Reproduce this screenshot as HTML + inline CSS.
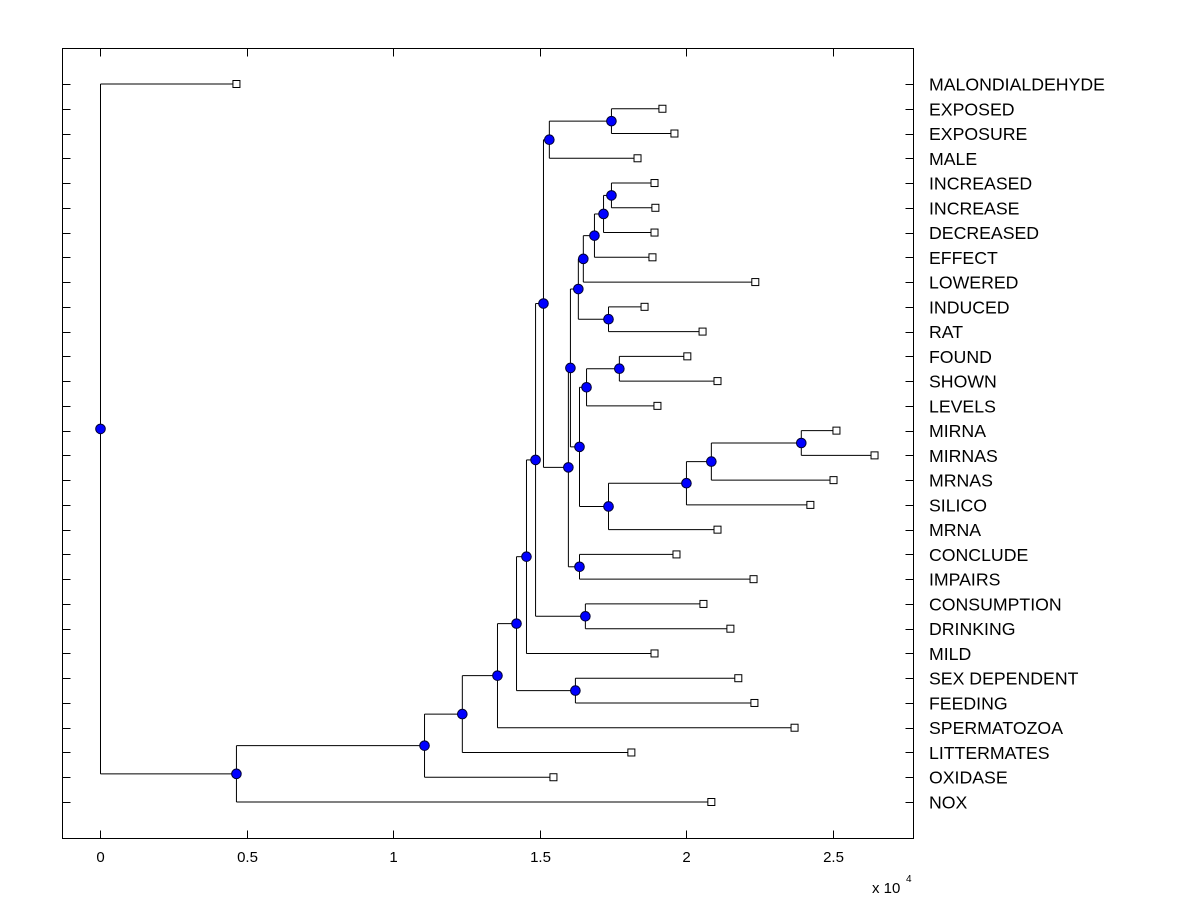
<!DOCTYPE html>
<html><head><meta charset="utf-8"><style>
body{margin:0;background:#fff}
svg text{font-family:"Liberation Sans",Arial,sans-serif;fill:#000}
</style></head><body>
<svg id="chart" width="1200" height="900" xmlns="http://www.w3.org/2000/svg">
<rect x="0" y="0" width="1200" height="900" fill="#fff"/>
<rect x="62.5" y="48.5" width="851" height="790" fill="#fff" stroke="#000" stroke-width="1"/>
<g id="ticks"></g><g id="lines"></g><g id="marks"></g><g id="labels"></g>
<text x="872" y="893" font-size="15">x 10</text>
<text x="906" y="882" font-size="10">4</text>
</svg>
<script>
const leafNames=["MALONDIALDEHYDE","EXPOSED","EXPOSURE","MALE","INCREASED","INCREASE","DECREASED","EFFECT","LOWERED","INDUCED","RAT","FOUND","SHOWN","LEVELS","MIRNA","MIRNAS","MRNAS","SILICO","MRNA","CONCLUDE","IMPAIRS","CONSUMPTION","DRINKING","MILD","SEX DEPENDENT","FEEDING","SPERMATOZOA","LITTERMATES","OXIDASE","NOX"];
const leafValues=[0.464,1.918,1.959,1.833,1.891,1.894,1.891,1.884,2.235,1.857,2.055,2.003,2.106,1.901,2.512,2.642,2.502,2.423,2.106,1.966,2.229,2.058,2.150,1.891,2.177,2.232,2.369,1.812,1.546,2.085];
const mergeNames=["BB","AA","Z","X","Y","W","Q","V","U","T","R","S","P","N","O","L","M","K","I","J","H","F","G","E","D","C","B","A","ROOT"];
const mergeLeft=[14,"BB","AA","Z",11,"Y","W",4,"V","U","T",9,"R","P",19,"N",1,"M","K",21,"I","H",24,"F","E","D","C","B",0];
const mergeRight=[15,16,17,18,12,13,"X",5,6,7,8,10,"S","Q",20,"O",2,3,"L",22,"J",23,25,"G",26,27,28,29,"A"];
const mergeHeights=[2.392,2.085,2.0,1.734,1.771,1.659,1.635,1.744,1.717,1.686,1.648,1.734,1.631,1.604,1.635,1.597,1.744,1.532,1.512,1.655,1.485,1.454,1.621,1.42,1.355,1.235,1.106,0.464,0];
const xTicks=[0,0.5,1,1.5,2,2.5];
const xTickLabels=["0","0.5","1","1.5","2","2.5"];

const NS="http://www.w3.org/2000/svg";
const X0=62.5,X1=913.5,Y0=48.5,Y1=838.5,VMIN=-0.1297,VMAX=2.775;
function xs(v){return X0+(v-VMIN)/(VMAX-VMIN)*(X1-X0);}
function ys(i){return 84+i*(802-84)/(leafNames.length-1);}
function mk(tag,attrs,parent){const e=document.createElementNS(NS,tag);for(const k in attrs)e.setAttribute(k,attrs[k]);parent.appendChild(e);return e;}
const gT=document.getElementById('ticks'),gL=document.getElementById('lines'),gM=document.getElementById('marks'),gLab=document.getElementById('labels');

xTicks.forEach((t,i)=>{
  const x=Math.round(xs(t))+0.5;
  let l=mk('line',{x1:x,x2:x,y1:Y1,y2:Y1-8,stroke:'#000'},gT);
  
  
  l=mk('line',{x1:x,x2:x,y1:Y0,y2:Y0+8,stroke:'#000'},gT);
  
  
  const tx=mk('text',{x:x,y:862,'font-size':15,'text-anchor':'middle'},gT);
  tx.textContent=xTickLabels[i];
  
  
});

const pos={};
leafNames.forEach((n,i)=>{pos[i]={x:xs(leafValues[i]),y:ys(i),leaf:true};});
mergeNames.forEach((n,k)=>{
  const a=pos[mergeLeft[k]],b=pos[mergeRight[k]];
  const x=xs(mergeHeights[k]);
  pos[n]={x:x,y:(a.y+b.y)/2,leaf:false};
  const v=mk('line',{x1:x,x2:x,y1:a.y,y2:b.y,stroke:'#000','stroke-width':1},gL);
  
  
  [a,b].forEach(c=>{
    const h=mk('line',{x1:x,x2:c.x,y1:c.y,y2:c.y,stroke:'#000','stroke-width':1},gL);
    
    
  });
});
mergeNames.forEach(n=>{
  const p=pos[n];
  const c=mk('circle',{cx:p.x,cy:p.y,r:4.8,fill:'#0000ff',stroke:'#000033','stroke-width':1},gM);
  
  
});
leafNames.forEach((n,i)=>{
  const p=pos[i];
  const y=Math.round(p.y)+0.5;
  const r=mk('rect',{x:p.x-3.5,y:p.y-3.5,width:7,height:7,fill:'#fff',stroke:'#000','stroke-width':1},gM);
  
  
  let t=mk('line',{x1:X0,x2:X0+8,y1:y,y2:y,stroke:'#000'},gT);
  
  
  t=mk('line',{x1:X1,x2:X1-8,y1:y,y2:y,stroke:'#000'},gT);
  
  
  const tx=mk('text',{x:929,y:p.y+6.5,'font-size':17.7},gLab);
  tx.textContent=n;
  
  
});
</script>
</body></html>
